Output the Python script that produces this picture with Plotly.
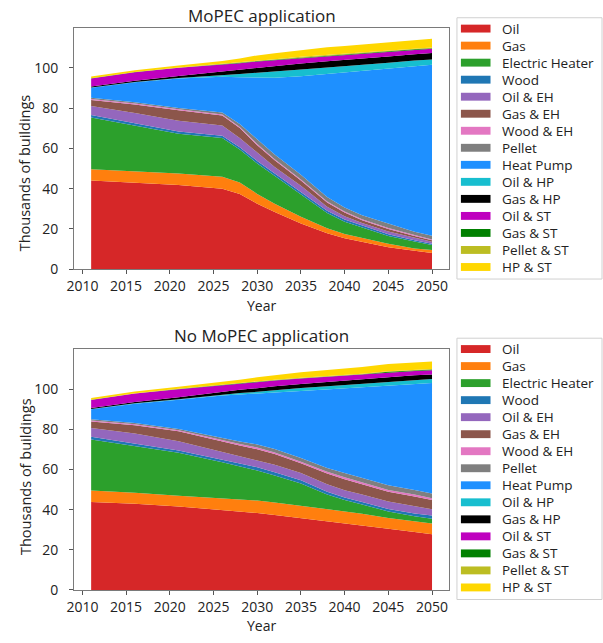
import plotly.graph_objects as go

# ---------------- data ----------------
years = [2011, 2016, 2021, 2026, 2028, 2030, 2032, 2035, 2038, 2040, 2042, 2045, 2048, 2050]

technologies = ["Oil", "Gas", "Electric Heater", "Wood", "Oil & EH", "Gas & EH",
                "Wood & EH", "Pellet", "Heat Pump", "Oil & HP", "Gas & HP",
                "Oil & ST", "Gas & ST", "Pellet & ST", "HP & ST"]

colors = ["#d62728", "#ff7f0e", "#2ca02c", "#1f77b4", "#9467bd", "#8c564b",
          "#e377c2", "#7f7f7f", "#1e90ff", "#17becf", "#000000",
          "#bf00bf", "#008000", "#bcbd22", "#ffd700"]

# Scenario with MoPEC application (thousands of buildings)
mopec_oil = [44.0, 43.0, 41.8, 39.9, 37.4, 32.5, 28.4, 22.7, 17.8, 15.4, 13.7, 10.9, 9.1, 8.0]
mopec_gas = [5.7, 5.7, 5.7, 6.0, 5.6, 4.9, 4.1, 3.3, 2.5, 2.1, 1.7, 1.7, 1.2, 1.5]
mopec_eh = [25.6, 22.7, 19.8, 19.3, 16.5, 15.1, 13.9, 11.4, 7.6, 6.0, 5.2, 3.9, 3.4, 2.5]
mopec_wood = [1.3, 1.2, 1.1, 1.1, 1.1, 1.3, 1.2, 1.1, 1.1, 1.2, 1.0, 0.8, 0.7, 0.6]
mopec_oil_eh = [4.4, 5.0, 5.3, 5.1, 4.6, 4.0, 3.2, 3.0, 2.0, 1.6, 1.4, 1.4, 1.1, 1.0]
mopec_gas_eh = [3.0, 4.2, 5.2, 4.9, 4.9, 3.8, 3.3, 2.5, 2.1, 1.8, 1.3, 1.2, 1.0, 0.8]
mopec_wood_eh = [0.5, 0.5, 0.5, 0.5, 0.5, 0.6, 0.5, 0.5, 0.5, 0.5, 0.5, 0.5, 0.5, 0.4]
mopec_pellet = [0.6, 0.6, 0.7, 1.0, 1.5, 2.2, 2.4, 2.4, 2.2, 2.0, 2.0, 2.3, 1.6, 1.8]
mopec_hp = [5.0, 9.9, 14.6, 17.8, 23.3, 30.7, 38.1, 49.0, 61.2, 67.2, 71.7, 76.9, 82.2, 85.0]
mopec_oil_hp = [0.1, 0.2, 0.3, 0.6, 1.5, 2.5, 3.0, 3.3, 3.2, 3.0, 3.0, 2.9, 2.8, 2.6]
mopec_gas_hp = [0.5, 0.6, 1.0, 2.0, 2.3, 2.7, 2.9, 3.0, 3.1, 3.1, 3.1, 3.2, 3.2, 3.2]
mopec_oil_st = [4.0, 4.2, 4.0, 3.3, 3.1, 2.9, 2.8, 2.7, 2.5, 2.4, 2.3, 2.2, 2.1, 2.1]
mopec_gas_st = [0.1, 0.1, 0.1, 0.2, 0.2, 0.2, 0.2, 0.3, 0.3, 0.3, 0.3, 0.3, 0.3, 0.3]
mopec_pellet_st = [0.1, 0.1, 0.1, 0.2, 0.2, 0.2, 0.3, 0.3, 0.3, 0.3, 0.3, 0.3, 0.3, 0.3]
mopec_hp_st = [0.8, 0.8, 1.0, 1.5, 2.0, 2.6, 3.0, 3.4, 3.8, 4.0, 4.1, 4.3, 4.4, 4.4]

# Scenario without MoPEC application (thousands of buildings)
nomopec_oil = [43.8, 42.9, 41.6, 39.9, 39.1, 38.3, 37.3, 35.8, 34.2, 33.1, 32.1, 30.5, 28.8, 27.7]
nomopec_gas = [5.7, 5.5, 5.3, 5.7, 6.0, 6.2, 6.3, 6.1, 6.0, 6.0, 5.9, 5.3, 5.4, 5.4]
nomopec_eh = [25.5, 23.3, 21.5, 18.0, 16.5, 15.0, 13.4, 11.1, 7.4, 5.7, 4.6, 3.3, 2.5, 2.3]
nomopec_wood = [1.3, 1.1, 1.1, 1.2, 1.4, 1.6, 1.6, 1.6, 1.3, 1.3, 1.2, 1.2, 1.4, 1.7]
nomopec_oil_eh = [4.4, 5.1, 4.6, 4.1, 3.8, 3.6, 3.7, 3.6, 3.7, 3.6, 3.8, 3.7, 3.7, 3.1]
nomopec_gas_eh = [3.2, 4.1, 4.9, 4.9, 5.2, 5.4, 5.4, 4.9, 5.4, 5.4, 5.1, 4.9, 4.8, 4.6]
nomopec_wood_eh = [0.5, 0.5, 0.5, 0.6, 0.7, 0.9, 0.8, 0.8, 0.9, 1.0, 0.9, 0.9, 0.9, 0.9]
nomopec_pellet = [0.6, 0.6, 0.7, 1.2, 1.3, 1.5, 1.7, 1.8, 1.9, 2.2, 2.2, 2.3, 2.3, 2.4]
nomopec_hp = [5.0, 9.7, 14.5, 21.3, 23.4, 25.2, 28.1, 33.4, 39.1, 42.1, 45.1, 49.9, 52.9, 55.0]
nomopec_oil_hp = [0.1, 0.2, 0.3, 0.5, 0.7, 1.0, 1.3, 1.5, 1.6, 1.7, 1.8, 1.9, 2.0, 2.0]
nomopec_gas_hp = [0.5, 0.6, 1.0, 1.4, 1.6, 1.8, 1.9, 2.0, 2.1, 2.1, 2.1, 2.2, 2.2, 2.2]
nomopec_oil_st = [4.0, 4.2, 4.0, 3.3, 3.1, 3.0, 2.8, 2.7, 2.6, 2.5, 2.4, 2.3, 2.2, 2.2]
nomopec_gas_st = [0.1, 0.1, 0.1, 0.1, 0.1, 0.2, 0.2, 0.2, 0.2, 0.2, 0.2, 0.3, 0.3, 0.3]
nomopec_pellet_st = [0.1, 0.1, 0.1, 0.1, 0.2, 0.2, 0.2, 0.2, 0.2, 0.2, 0.3, 0.3, 0.3, 0.3]
nomopec_hp_st = [0.8, 0.8, 1.0, 1.3, 1.6, 2.0, 2.3, 2.7, 3.0, 3.2, 3.3, 3.5, 3.6, 3.7]

x_ticks = [2010, 2015, 2020, 2025, 2030, 2035, 2040, 2045, 2050]
y_ticks = [0, 20, 40, 60, 80, 100]

scenarios = [
    ("MoPEC application", "x", "y",
     [mopec_oil, mopec_gas, mopec_eh, mopec_wood, mopec_oil_eh, mopec_gas_eh,
      mopec_wood_eh, mopec_pellet, mopec_hp, mopec_oil_hp, mopec_gas_hp,
      mopec_oil_st, mopec_gas_st, mopec_pellet_st, mopec_hp_st]),
    ("No MoPEC application", "x2", "y2",
     [nomopec_oil, nomopec_gas, nomopec_eh, nomopec_wood, nomopec_oil_eh, nomopec_gas_eh,
      nomopec_wood_eh, nomopec_pellet, nomopec_hp, nomopec_oil_hp, nomopec_gas_hp,
      nomopec_oil_st, nomopec_gas_st, nomopec_pellet_st, nomopec_hp_st]),
]

# ---------------- layout constants (pixels) ----------------
W, H = 603, 643
FONT = "Open Sans, Arial, sans-serif"
TXT = "#222222"

def px(x):
    return x / W

def py(y):
    return 1 - y / H

panel_left, panel_right = 67, 447
panels = [(28, 273), (354, 598.3)]      # top / bottom pixel rows of each plot area
panel_offset = 325                      # vertical shift between the two panels

fig = go.Figure()

for (title, xa, ya, series), (ptop, pbot) in zip(scenarios, panels):
    for name, color, values in zip(technologies, colors, series):
        fig.add_trace(go.Scatter(
            x=years, y=values, name=name, mode="lines",
            stackgroup=ya, fillcolor=color,
            line=dict(width=0, color=color),
            xaxis=xa, yaxis=ya, showlegend=False,
        ))

axis_common = dict(
    showline=True, mirror=True, linecolor="#7a7a7a", linewidth=1,
    ticks="outside", ticklen=4, tickcolor="#555555", tickwidth=1,
    showgrid=False, zeroline=False,
    tickfont=dict(family=FONT, size=14, color=TXT),
)

layout = dict(
    width=W, height=H,
    margin=dict(l=0, r=0, t=0, b=0),
    paper_bgcolor="white", plot_bgcolor="white",
    showlegend=False,
)
for i, (ptop, pbot) in enumerate(panels):
    sfx = "" if i == 0 else str(i + 1)
    layout["xaxis" + sfx] = dict(
        axis_common, domain=[px(panel_left), px(panel_right)],
        range=[2009.05, 2051.95], tickvals=x_ticks, anchor="y" + sfx,
        ticklabelstandoff=0,
    )
    layout["yaxis" + sfx] = dict(
        axis_common, domain=[py(pbot), py(ptop)],
        range=[0, 120], tickvals=y_ticks, anchor="x" + sfx,
        ticklabelstandoff=8,
    )
fig.update_layout(**layout)

# ---------------- titles and axis labels ----------------
annotations = []
title_rows = [16, 340.7]
ylabel_rows = [175, 483]
xlabel_rows = [310, 634]
for (title, *_), ty, yl, xl in zip(scenarios, title_rows, ylabel_rows, xlabel_rows):
    annotations.append(dict(text=title, x=px((panel_left + panel_right) / 2), y=py(ty),
                            xref="paper", yref="paper", showarrow=False,
                            xanchor="center", yanchor="middle",
                            font=dict(family=FONT, size=17, color=TXT)))
    annotations.append(dict(text="Thousands of buildings", x=px(17), y=py(yl),
                            xref="paper", yref="paper", showarrow=False, textangle=-90,
                            xanchor="center", yanchor="middle",
                            font=dict(family=FONT, size=14.5, color=TXT)))
    annotations.append(dict(text="Year", x=px((panel_left + panel_right) / 2), y=py(xl),
                            xref="paper", yref="paper", showarrow=False,
                            xanchor="center", yanchor="middle", borderpad=0,
                            font=dict(family=FONT, size=14, color=TXT)))

# ---------------- legends (one per panel) ----------------
shapes = []
leg_left, leg_right = 455, 602
leg_box_top, leg_box_bot = 18, 283
first_row, row_step = 29, 17.27
sw_left, sw_right, sw_half = 459, 489, 4
text_left = 499
for k in range(2):
    off = k * panel_offset
    shapes.append(dict(type="rect", xref="paper", yref="paper",
                       x0=px(leg_left), x1=px(leg_right),
                       y0=py(leg_box_bot + off), y1=py(leg_box_top + off),
                       line=dict(color="#d0d0d0", width=1), fillcolor="white", layer="above"))
    for i, (name, color) in enumerate(zip(technologies, colors)):
        cy = first_row + i * row_step + off
        shapes.append(dict(type="rect", xref="paper", yref="paper",
                           x0=px(sw_left), x1=px(sw_right),
                           y0=py(cy + sw_half), y1=py(cy - sw_half),
                           line=dict(width=0), fillcolor=color, layer="above"))
        annotations.append(dict(text=name, x=px(text_left), y=py(cy),
                                xref="paper", yref="paper", showarrow=False,
                                xanchor="left", yanchor="middle",
                                font=dict(family=FONT, size=13.5, color=TXT)))

fig.update_layout(annotations=annotations, shapes=shapes)

fig.write_html("out.html")
